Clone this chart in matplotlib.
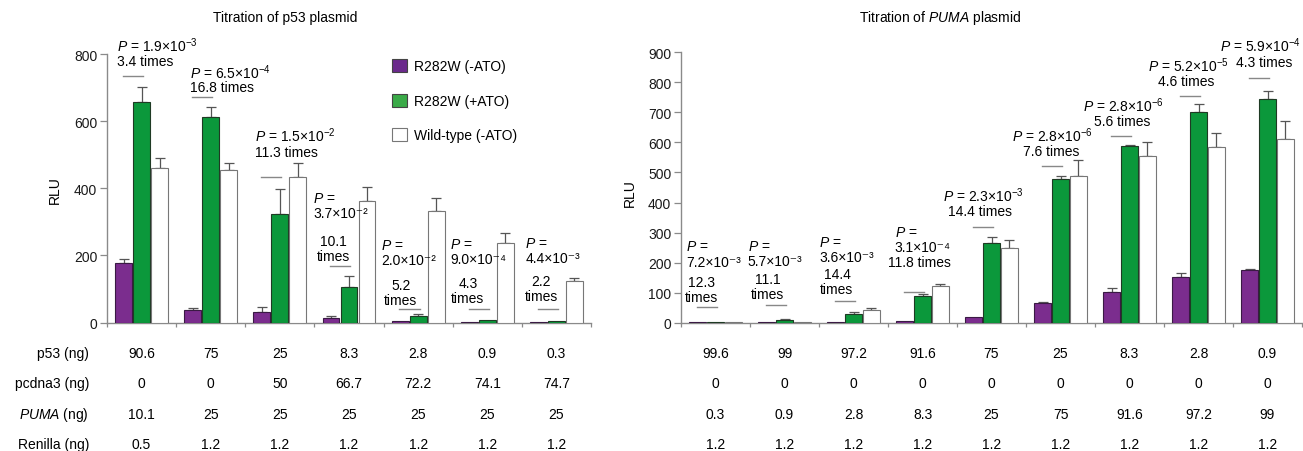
import numpy as np
import matplotlib.pyplot as plt
from matplotlib.patches import Patch
from matplotlib import transforms

plt.rcParams['font.family'] = ['Liberation Sans', 'DejaVu Sans']
plt.rcParams['font.size'] = 10
plt.rcParams['mathtext.fontset'] = 'custom'
plt.rcParams['mathtext.rm'] = 'Liberation Sans'
plt.rcParams['mathtext.it'] = 'Liberation Sans:italic'

# ---- data: titration of p53 plasmid ----
p53_rows = ['p53 (ng)', 'pcdna3 (ng)', '$PUMA$ (ng)', 'Renilla (ng)']
p53_table = [
    ['90.6', '75', '25', '8.3', '2.8', '0.9', '0.3'],
    ['0', '0', '50', '66.7', '72.2', '74.1', '74.7'],
    ['10.1', '25', '25', '25', '25', '25', '25'],
    ['0.5', '1.2', '1.2', '1.2', '1.2', '1.2', '1.2'],
]
p53_minus = [177, 37, 31, 12, 3, 2, 2]
p53_minus_err = [12, 6, 16, 6, 0, 0, 0]
p53_plus = [658, 612, 323, 107, 19, 8, 3]
p53_plus_err = [44, 30, 75, 33, 5, 0, 0]
p53_wt = [462, 455, 433, 362, 332, 237, 125]
p53_wt_err = [30, 22, 42, 41, 39, 30, 9]
p53_pval = [('1.9', 3), ('6.5', 4), ('1.5', 2), ('3.7', 2), ('2.0', 2), ('9.0', 4), ('4.4', 3)]
p53_fold = ['3.4', '16.8', '11.3', '10.1', '5.2', '4.3', '2.2']

# ---- data: titration of PUMA plasmid ----
puma_table = [
    ['99.6', '99', '97.2', '91.6', '75', '25', '8.3', '2.8', '0.9'],
    ['0', '0', '0', '0', '0', '0', '0', '0', '0'],
    ['0.3', '0.9', '2.8', '8.3', '25', '75', '91.6', '97.2', '99'],
    ['1.2', '1.2', '1.2', '1.2', '1.2', '1.2', '1.2', '1.2', '1.2'],
]
puma_minus = [1, 1, 2, 7, 18, 65, 103, 153, 176]
puma_minus_err = [0, 0, 0, 0, 0, 5, 12, 13, 3]
puma_plus = [3, 10, 29, 90, 265, 478, 587, 701, 743]
puma_plus_err = [0, 2, 6, 5, 20, 11, 5, 26, 28]
puma_wt = [2, 1, 42, 123, 248, 488, 555, 586, 611]
puma_wt_err = [0, 0, 6, 7, 28, 54, 46, 45, 60]
puma_pval = [('7.2', 3), ('5.7', 3), ('3.6', 3), ('3.1', 4), ('2.3', 3),
             ('2.8', 6), ('2.8', 6), ('5.2', 5), ('5.9', 4)]
puma_fold = ['12.3', '11.1', '14.4', '11.8', '14.4', '7.6', '5.6', '4.6', '4.3']

series_labels = ['R282W (-ATO)', 'R282W (+ATO)', 'Wild-type (-ATO)']

# ---- layout (not data): annotation placement ----
# (x of P text, y of P lines, x centre of fold text, y of fold lines, y of short bar)
p53_ann = [
    (-0.355, [830], 0.057, [779], 735),
    (0.70, [749], 1.156, [702], 673),
    (1.64, [559], 2.09, [509], 433),
    (2.48, [369, 330], 2.77, [241, 199], 169),
    (3.46, [229, 190], 3.75, [110, 71], 39),
    (4.46, [232, 193], 4.72, [116, 77], 39),
    (5.55, [235, 196], 5.78, [122, 83], 39),
]
puma_ann = [
    (-0.43, [252, 205], -0.20, [135, 89], 53),
    (0.47, [255, 205], 0.76, [145, 95], 59),
    (1.50, [268, 222], 1.76, [162, 112], 73),
    (2.60, [299, 252], 2.96, [202], 103),
    (3.30, [425], 3.83, [372], 318),
    (4.30, [625], 4.86, [572], 521),
    (5.33, [725], 5.89, [672], 622),
    (6.27, [858], 6.82, [805], 754),
    (7.31, [924], 7.95, [868], 815),
]

purple = '#7b2d8e'
green = '#0b983b'
gray = '#8a8a8a'
W, H = 1303, 452
SUP = str.maketrans('0123456789-', '⁰¹²³⁴⁵⁶⁷⁸⁹⁻')

fig = plt.figure(figsize=(W / 100, H / 100), dpi=100)
ax1 = fig.add_axes([107 / W, 1 - 323.5 / H, 484 / W, 268.2 / H])
ax2 = fig.add_axes([681 / W, 1 - 323.7 / H, 621 / W, 270.4 / H])


def draw_panel(ax, minus, minus_err, plus, plus_err, wt, wt_err, ymax, step):
    n = len(minus)
    x = np.arange(n)
    bw = 0.245
    for off, vals, errs, fc, ec in [(-0.26, minus, minus_err, purple, '#3a1a44'),
                                    (0.0, plus, plus_err, green, '#1f3a24'),
                                    (0.26, wt, wt_err, 'white', '#777777')]:
        ax.bar(x + off, vals, width=bw, color=fc, edgecolor=ec, linewidth=0.8, zorder=3)
        vals = np.array(vals)
        errs = np.array(errs)
        m = errs > 0
        ax.errorbar(x[m] + off, vals[m], yerr=[np.zeros(m.sum()), errs[m]], fmt='none',
                    ecolor='#555555', elinewidth=0.9, capsize=3.5, capthick=0.9, zorder=2)
    ax.set_xlim(-0.5, n - 0.5)
    ax.set_ylim(0, ymax)
    ax.set_yticks(np.arange(0, ymax + 1, step))
    ax.set_xticks(np.arange(n + 1) - 0.5)
    ax.set_xticklabels([])
    for s in ['top', 'right']:
        ax.spines[s].set_visible(False)
    for s in ['left', 'bottom']:
        ax.spines[s].set_color(gray)
        ax.spines[s].set_linewidth(1)
    ax.tick_params(axis='y', length=5, width=0.9, color=gray, pad=2, labelsize=10,
                   labelcolor='#1a1a1a')
    ax.tick_params(axis='x', length=3, width=0.9, color=gray)


def annotate(ax, pvals, folds, layout):
    for i, ((mant, ex), f, (xp, yps, xf, yfs, yl)) in enumerate(zip(pvals, folds, layout)):
        if len(yps) == 1:
            ptxt = '$P$ = %s×10$^{-%d}$' % (mant, ex)
        else:
            ptxt = '$P$ =\n%s×10%s' % (mant, ('-%d' % ex).translate(SUP))
        if len(yfs) == 1:
            ftxt = f + ' times'
        else:
            ftxt = f + '\ntimes'
        ax.text(xp, np.mean(yps), ptxt, ha='left', va='center', fontsize=10,
                linespacing=1.1, clip_on=False)
        ax.text(xf, np.mean(yfs), ftxt, ha='center', va='center', fontsize=10,
                multialignment='center', linespacing=1.1, clip_on=False)
        ax.plot([i - 0.27, i + 0.02], [yl, yl], color='#888888', lw=1, clip_on=False, zorder=4)


def table(ax, rows, row_ys):
    tr = transforms.blended_transform_factory(ax.transData, fig.transFigure)
    for r, y in zip(rows, row_ys):
        for i, v in enumerate(r):
            ax.text(i, 1 - y / H, v, transform=tr, ha='center', va='center', fontsize=10)


row_ys = [354, 384, 415, 445]

draw_panel(ax1, p53_minus, p53_minus_err, p53_plus, p53_plus_err, p53_wt, p53_wt_err, 800, 200)
draw_panel(ax2, puma_minus, puma_minus_err, puma_plus, puma_plus_err, puma_wt, puma_wt_err, 900, 100)
annotate(ax1, p53_pval, p53_fold, p53_ann)
annotate(ax2, puma_pval, puma_fold, puma_ann)
table(ax1, p53_table, row_ys)
table(ax2, puma_table, row_ys)
for lab, y in zip(p53_rows, row_ys):
    fig.text(89 / W, 1 - y / H, lab, ha='right', va='center', fontsize=10)

fig.text(285 / W, 1 - 18 / H, 'Titration of p53 plasmid', ha='center', va='center', fontsize=10)
fig.text(940 / W, 1 - 18 / H, 'Titration of $PUMA$ plasmid', ha='center', va='center', fontsize=10)
fig.text(55 / W, 1 - 190 / H, 'RLU', rotation=90, ha='center', va='center', fontsize=10)
fig.text(630 / W, 1 - 193 / H, 'RLU', rotation=90, ha='center', va='center', fontsize=10)

handles = [Patch(facecolor='#6b2a8c', edgecolor='#444444', lw=0.8),
           Patch(facecolor='#3aaa48', edgecolor='#444444', lw=0.8),
           Patch(facecolor='white', edgecolor='#777777', lw=0.8)]
fig.legend(handles, series_labels, loc='upper left', bbox_to_anchor=(392 / W, 1 - 60 / H),
           frameon=False, handlelength=1.1, handleheight=1.1, labelspacing=1.45,
           handletextpad=0.45, borderpad=0, borderaxespad=0, fontsize=10)

fig.savefig('out.png', dpi=100)
